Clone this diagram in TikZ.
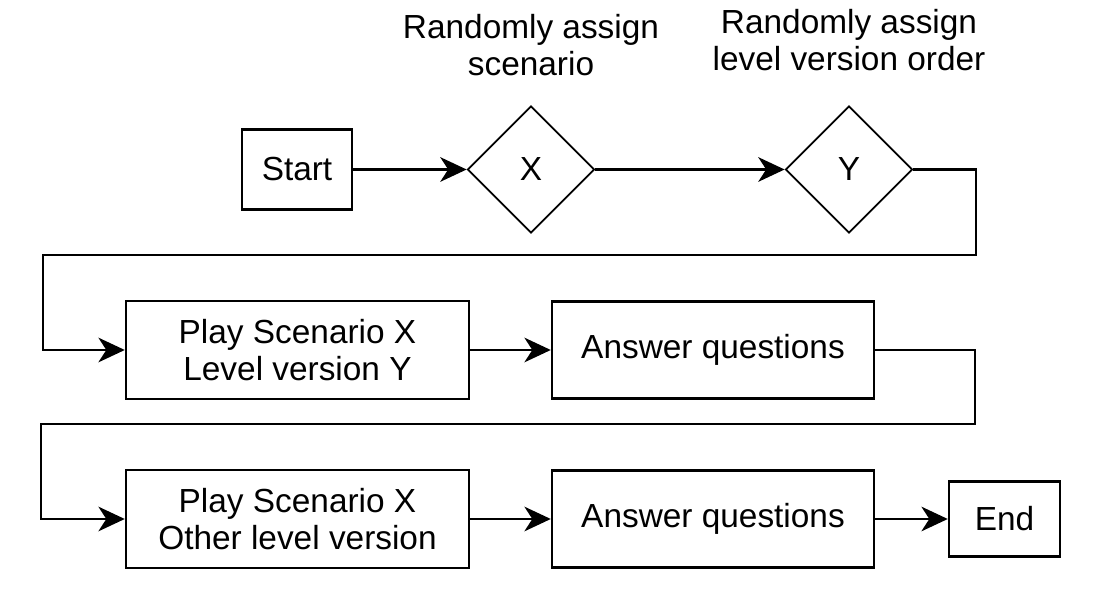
\documentclass[tikz,border=0pt]{standalone}
\usepackage{fontspec}
\setmainfont{Liberation Sans}
\usetikzlibrary{shapes.geometric,arrows.meta}

\begin{document}
\begin{tikzpicture}[font=\fontsize{19}{21}\selectfont,
  block/.style={draw, line width=1.4pt, align=center, inner sep=0pt},
  choice/.style={draw, diamond, line width=1pt, minimum size=2.54cm, inner sep=0pt},
  flow/.style={-{Stealth[length=15pt,width=14pt,inset=4.5pt]}, line width=1.4pt}]
\useasboundingbox (0,0) rectangle (21.98,11.96);
% first row
\node[block, minimum width=2.2cm, minimum height=1.6cm] (start) at (5.94,8.57) {Start};
\node[choice] (x) at (10.62,8.57) {X};
\node[choice] (y) at (16.98,8.57) {Y};
\node[align=center] (xlabel) at (10.62,11.05) {Randomly assign\\scenario};
\node[align=center] (ylabel) at (16.98,11.15) {Randomly assign\\level version order};
% second and third row
\node[block, minimum width=6.86cm, minimum height=1.96cm] (play1) at (5.95,4.96) {Play Scenario X\\Level version Y};
\node[block, minimum width=6.44cm, minimum height=1.94cm] (answer1) at (14.26,4.96) {Answer questions};
\node[block, minimum width=6.86cm, minimum height=1.96cm] (play2) at (5.95,1.58) {Play Scenario X\\Other level version};
\node[block, minimum width=6.44cm, minimum height=1.94cm] (answer2) at (14.26,1.58) {Answer questions};
\node[block, minimum width=2.22cm, minimum height=1.5cm] (end) at (20.09,1.58) {End};
% corners of the return lines
\coordinate (turn1) at (19.52,6.86);
\coordinate (back1) at (0.86,6.86);
\coordinate (turn2) at (19.50,3.48);
\coordinate (back2) at (0.82,3.48);
\draw[flow] (start) -- (x);
\draw[flow] (x) -- (y);
\draw[flow] (y.east) -| (turn1) -- (back1) |- (play1.west);
\draw[flow] (play1) -- (answer1);
\draw[flow] (answer1.east) -| (turn2) -- (back2) |- (play2.west);
\draw[flow] (play2) -- (answer2);
\draw[flow] (answer2) -- (end);
\end{tikzpicture}
\end{document}
